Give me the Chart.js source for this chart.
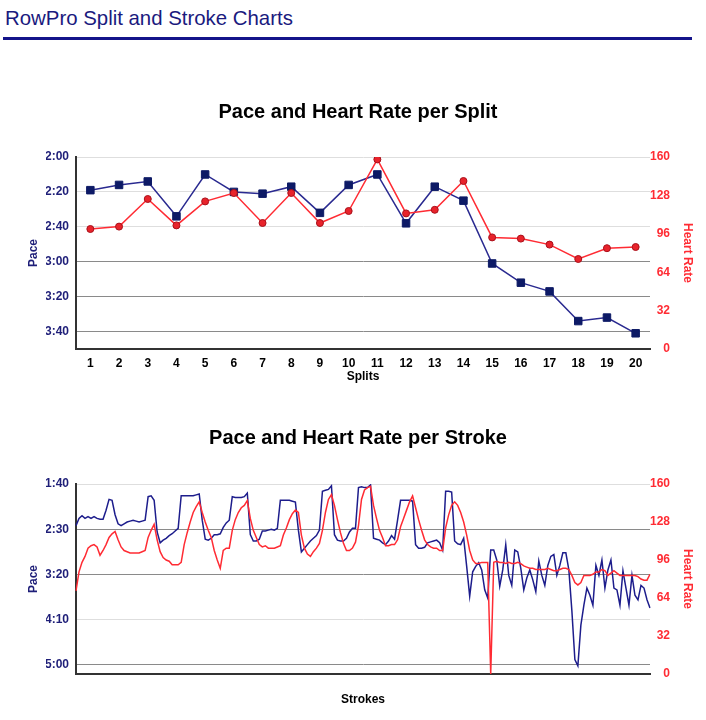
<!DOCTYPE html>
<html>
<head>
<meta charset="utf-8">
<title>RowPro Split and Stroke Charts</title>
<script src="https://cdn.jsdelivr.net/npm/chart.js@4.4.1/dist/chart.umd.min.js"></script>
<style>
body { margin: 0; background: #fff; font-family: 'Liberation Sans', Arial, Helvetica, sans-serif; }
#page { position: relative; width: 706px; height: 720px; overflow: hidden; }
h1 { position: absolute; left: 5px; top: 7px; margin: 0; font-size: 20.4px; line-height: 23px; font-weight: normal; color: #1a1a7e; }
#rule { position: absolute; left: 3px; top: 37px; width: 689px; height: 3px; background: #14148a; }
.box { position: absolute; left: 0; }
</style>
</head>
<body>
<div id="page">
    <h1>RowPro Split and Stroke Charts</h1>
    <div id="rule"></div>
    <canvas id="splitChart" class="box" width="706" height="310" style="top:80px"></canvas>
    <canvas id="strokeChart" class="box" width="706" height="315" style="top:405px"></canvas>
</div>
<script>
// split data (pace in seconds per 500m, heart rate in bpm)
var splitLabels = ['1', '2', '3', '4', '5', '6', '7', '8', '9', '10', '11', '12', '13', '14', '15', '16', '17', '18', '19', '20'];
var splitPace = [139, 136, 134, 154, 130, 140, 141, 137, 152, 136, 130, 158, 137, 145, 181, 192, 197, 214, 212, 221];
var splitHr = [100, 102, 125, 103, 123, 130, 105, 130, 105, 115, 158, 113, 116, 140, 93, 92, 87, 75, 84, 85];

// stroke data
var strokePace = [
    146, 138, 135, 138, 136, 138, 136, 138, 139, 139,
    129, 117, 118, 134, 144, 146, 144, 142, 141, 140,
    141, 142, 141, 140, 114, 113, 118, 153, 165, 162,
    160, 157, 155, 152, 149, 113, 113, 113, 113, 113,
    112, 111, 140, 161, 162, 160, 156, 156, 155, 148,
    143, 140, 114, 115, 115, 115, 114, 110, 156, 163,
    163, 161, 152, 152, 151, 150, 151, 149, 118, 118,
    118, 118, 119, 120, 151, 175, 171, 167, 163, 160,
    157, 151, 108, 107, 106, 102, 156, 162, 163, 163,
    160, 153, 149, 149, 104, 103, 104, 104, 101, 160,
    161, 162, 165, 167, 163, 157, 161, 140, 118, 118,
    118, 118, 119, 167, 171, 171, 170, 165, 164, 163,
    162, 165, 173, 108, 108, 109, 163, 166, 167, 160,
    191, 224, 197, 191, 187, 195, 217, 226, 173, 173,
    184, 213, 195, 167, 201, 212, 173, 175, 193, 217,
    204, 195, 206, 219, 185, 201, 212, 190, 180, 178,
    201, 190, 176, 176, 195, 240, 294, 301, 256, 234,
    215, 223, 234, 190, 201, 184, 215, 195, 184, 215,
    217, 234, 196, 215, 234, 201, 223, 228, 212, 215,
    228, 237
];
var strokeHr = [
    70, 86, 94, 99, 106, 108, 109, 107, 100, 104,
    109, 115, 118, 120, 113, 107, 104, 103, 102, 102,
    102, 102, 103, 104, 115, 121, 126, 113, 103, 98,
    96, 95, 92, 92, 92, 94, 109, 119, 128, 136,
    141, 145, 136, 128, 121, 115, 104, 96, 89, 104,
    106, 106, 121, 130, 136, 140, 142, 146, 131, 121,
    115, 109, 107, 108, 106, 106, 106, 107, 108, 117,
    123, 130, 135, 138, 136, 117, 106, 101, 99, 103,
    106, 110, 121, 136, 147, 151, 142, 130, 119, 110,
    104, 104, 106, 111, 125, 147, 155, 157, 158, 142,
    131, 121, 115, 108, 108, 109, 109, 113, 124, 131,
    138, 145, 150, 140, 130, 121, 113, 109, 107, 106,
    106, 104, 104, 123, 134, 142, 145, 142, 136, 128,
    117, 104, 96, 93, 93, 94, 94, 94, 0, 94,
    95, 94, 94, 93, 94, 93, 93, 94, 93, 91,
    90, 89, 89, 88, 88, 88, 88, 89, 88, 87,
    87, 88, 89, 89, 88, 83, 77, 75, 77, 83,
    83, 83, 84, 86, 86, 88, 87, 83, 85, 87,
    85, 83, 83, 83, 83, 83, 83, 82, 80, 79,
    79, 84
];

// axis ranges / steps
var splitPaceRange = [120, 230, 20];
var strokePaceRange = [100, 310, 50];
var hrRange = [0, 160, 32];
// pace gridlines drawn darker
var splitDarkLines = [180, 200, 220];
var strokeDarkLines = [150, 200, 300];

var paceColor = '#2a2a90';
var paceText = '#1e1e78';
var hrColor = '#ff2b33';
var fontFamily = "'Liberation Sans', Arial, Helvetica, sans-serif";

Chart.defaults.font.family = fontFamily;

function paceLabel(value) {
    var m = Math.floor(value / 60);
    var s = Math.round(value % 60);
    return m + ':' + (s < 10 ? '0' + s : s);
}

function boldFont(size) {
    return { family: fontFamily, size: size, weight: 'bold' };
}

function buildOptions(title, xTitle, paceRange, darkLines, xHeight, xTitlePad, titlePad, showXTicks) {
    return {
        responsive: false,
        animation: false,
        devicePixelRatio: 1,
        layout: { padding: { left: 46, right: 36, top: 0, bottom: 0 } },
        plugins: {
            legend: { display: false },
            tooltip: { enabled: false },
            title: {
                display: true,
                text: title,
                color: '#000',
                font: boldFont(20),
                padding: titlePad
            }
        },
        scales: {
            x: {
                offset: showXTicks,
                grid: { display: false, drawTicks: false },
                border: { color: '#333', width: 2 },
                ticks: {
                    display: showXTicks,
                    color: '#000',
                    font: boldFont(12),
                    padding: 7,
                    maxRotation: 0,
                    autoSkip: false
                },
                title: {
                    display: true,
                    text: xTitle,
                    color: '#000',
                    font: boldFont(12),
                    padding: { top: 0, bottom: xTitlePad }
                },
                afterFit: function (scale) { scale.height = xHeight; }
            },
            pace: {
                position: 'left',
                reverse: true,
                min: paceRange[0],
                max: paceRange[1],
                ticks: {
                    stepSize: paceRange[2],
                    includeBounds: false,
                    callback: paceLabel,
                    color: paceText,
                    font: boldFont(12),
                    padding: 7
                },
                grid: {
                    drawTicks: false,
                    lineWidth: 1,
                    color: function (ctx) {
                        if (ctx.tick && darkLines.indexOf(ctx.tick.value) > -1) return '#8a8a8a';
                        return '#dedede';
                    }
                },
                border: { color: '#333', width: 2 },
                title: {
                    display: true,
                    text: 'Pace',
                    color: paceText,
                    font: boldFont(12),
                    padding: { top: -20, bottom: 0 }
                },
                afterFit: function (scale) { scale.width = 30; }
            },
            hr: {
                position: 'right',
                min: hrRange[0],
                max: hrRange[1],
                ticks: {
                    stepSize: hrRange[2],
                    color: hrColor,
                    font: boldFont(12),
                    crossAlign: 'far'
                },
                grid: { display: false, drawTicks: false },
                border: { display: false },
                title: {
                    display: true,
                    text: 'Heart Rate',
                    color: hrColor,
                    font: boldFont(12),
                    padding: { top: -25, bottom: 0 }
                },
                afterFit: function (scale) { scale.width = 20; }
            }
        }
    };
}

// Split chart
new Chart(document.getElementById('splitChart'), {
    type: 'line',
    data: {
        labels: splitLabels,
        datasets: [{
            label: 'Heart Rate',
            data: splitHr,
            yAxisID: 'hr',
            borderColor: hrColor,
            borderWidth: 1.5,
            pointStyle: 'circle',
            pointRadius: 3.5,
            pointBackgroundColor: '#e8232b',
            pointBorderColor: '#a8101a',
            pointBorderWidth: 1
        }, {
            label: 'Pace',
            data: splitPace,
            yAxisID: 'pace',
            borderColor: paceColor,
            borderWidth: 1.5,
            pointStyle: 'rect',
            pointRadius: 5.3,
            pointBackgroundColor: '#0d1a66',
            pointBorderColor: '#0d1a66',
            pointBorderWidth: 1
        }]
    },
    options: buildOptions('Pace and Heart Rate per Split', 'Splits', splitPaceRange, splitDarkLines, 41, 6, { top: 20, bottom: 33 }, true)
});

// Stroke chart
var strokeLabels = [];
for (var i = 0; i < strokePace.length; i++) {
    strokeLabels.push(String(i + 1));
}

new Chart(document.getElementById('strokeChart'), {
    type: 'line',
    data: {
        labels: strokeLabels,
        datasets: [{
            label: 'Heart Rate',
            data: strokeHr,
            yAxisID: 'hr',
            borderColor: hrColor,
            borderWidth: 1.5,
            pointRadius: 0
        }, {
            label: 'Pace',
            data: strokePace,
            yAxisID: 'pace',
            borderColor: '#1d1d8c',
            borderWidth: 1.5,
            pointRadius: 0
        }]
    },
    options: buildOptions('Pace and Heart Rate per Stroke', 'Strokes', strokePaceRange, strokeDarkLines, 46, 13, { top: 21, bottom: 34 }, false)
});
</script>
</body>
</html>
